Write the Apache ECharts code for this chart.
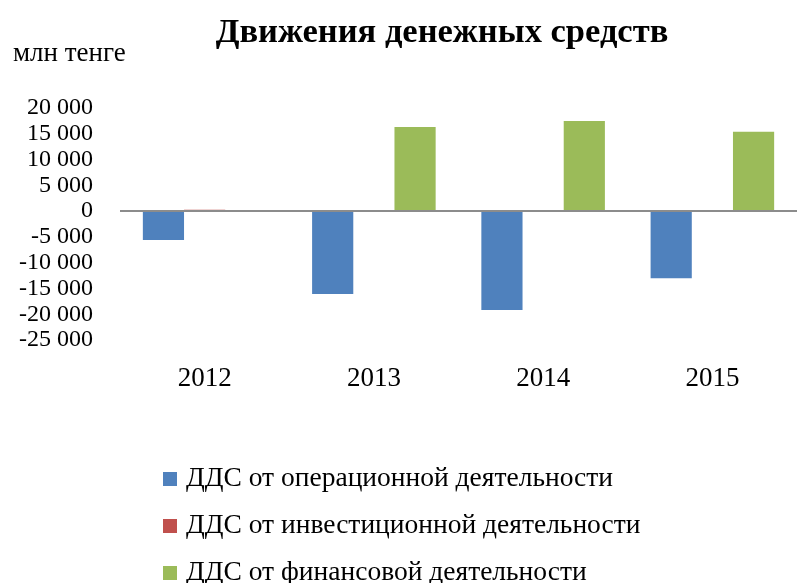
<!DOCTYPE html>
<html>
<head>
<meta charset="utf-8">
<script src="https://cdn.jsdelivr.net/npm/echarts@6/dist/echarts.min.js"></script>
<style>
  html, body { margin: 0; padding: 0; background: #fff; }
  #chart { width: 797px; height: 583px; }
</style>
</head>
<body>
<div id="chart"></div>
<script>
var years = ['2012', '2013', '2014', '2015'];
var seriesNames = [
  'ДДС от операционной деятельности',
  'ДДС от инвестиционной деятельности',
  'ДДС от финансовой деятельности'
];
var operating = [-5600, -16100, -19200, -13000];
var investing = [250, -150, -120, -100];
var financing = [50, 16300, 17500, 15400];
var colors = ['#4F81BD', '#C0504D', '#9BBB59'];

var font = '"Liberation Serif", "DejaVu Serif", serif';

function fmt(v) {
  var s = String(Math.abs(v)).replace(/\B(?=(\d{3})+(?!\d))/g, ' ');
  return (v < 0 ? '-' : '') + s;
}

var myChart = echarts.init(document.getElementById('chart'));

var option = {
  animation: false,
  color: colors,
  title: [
    {
      text: 'Движения денежных средств',
      left: 437,
      textAlign: 'center',
      top: 11,
      textStyle: { fontFamily: font, fontSize: 34.5, fontWeight: 'bold', color: '#000' }
    },
    {
      text: 'млн тенге',
      left: 8,
      top: 35,
      textStyle: { fontFamily: font, fontSize: 27, fontWeight: 'normal', color: '#000' }
    }
  ],
  legend: {
    orient: 'vertical',
    left: 158,
    top: 460,
    height: 200,
    itemGap: 19,
    itemWidth: 14,
    itemHeight: 14,
    icon: 'rect',
    data: seriesNames,
    textStyle: { fontFamily: font, fontSize: 27.5, color: '#000', padding: [0, 0, 0, 4] }
  },
  grid: {
    left: 120,
    right: -4,
    top: 108,
    bottom: 243,
    containLabel: false
  },
  xAxis: {
    type: 'category',
    data: years,
    position: 'bottom',
    axisLine: { show: false, onZero: false },
    axisTick: { show: false },
    axisLabel: { margin: 25, fontFamily: font, fontSize: 27, color: '#000' }
  },
  yAxis: {
    type: 'value',
    min: -25000,
    max: 20000,
    interval: 5000,
    axisLine: { show: false },
    axisTick: { show: false },
    splitLine: { show: false },
    axisLabel: {
      margin: 27,
      fontFamily: font,
      fontSize: 24,
      color: '#000',
      showMinLabel: true,
      showMaxLabel: true,
      formatter: fmt
    }
  },
  series: [
    {
      name: seriesNames[0],
      type: 'bar',
      data: operating,
      barGap: '0%',
      barCategoryGap: '27%',
      markLine: {
        silent: true,
        symbol: 'none',
        label: { show: false },
        lineStyle: { color: '#8C8C8C', width: 2, type: 'solid' },
        data: [{ yAxis: 0 }]
      }
    },
    { name: seriesNames[1], type: 'bar', data: investing, barGap: '0%', barCategoryGap: '27%' },
    { name: seriesNames[2], type: 'bar', data: financing, barGap: '0%', barCategoryGap: '27%' }
  ]
};

myChart.setOption(option);
</script>
</body>
</html>
